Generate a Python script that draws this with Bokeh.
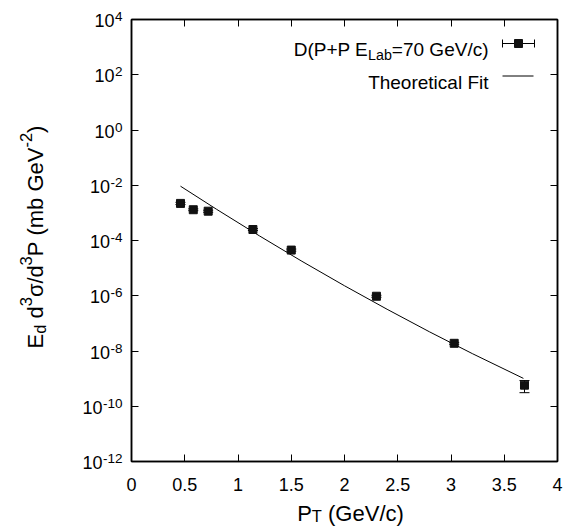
import math
from bokeh.plotting import figure
from bokeh.models import Range1d, FixedTicker, LinearAxis, LogAxis, CustomJSTickFormatter
from bokeh.core.properties import value
from bokeh.embed import file_html
from bokeh.resources import INLINE

# ---------------- data ----------------
pt = [0.46, 0.58, 0.72, 1.14, 1.50, 2.30, 3.03, 3.69]
xsec = [2.2e-3, 1.3e-3, 1.15e-3, 2.5e-4, 4.5e-5, 9.6e-7, 1.9e-8, 5.8e-10]
xsec_lo = [2.0e-3, 1.2e-3, 1.05e-3, 2.3e-4, 4.1e-5, 8.8e-7, 1.75e-8, 3.1e-10]
xsec_hi = [2.4e-3, 1.4e-3, 1.25e-3, 2.7e-4, 4.9e-5, 1.04e-6, 2.05e-8, 8.5e-10]

fit_pt = [0.46, 0.8, 1.2, 1.6, 2.0, 2.4, 2.8, 3.2, 3.68]
fit_xsec = [9.25e-3, 1.34e-3, 1.48e-4, 1.77e-5, 2.30e-6, 3.24e-7, 4.9e-8, 8.05e-9, 1.02e-9]

x_ticks = [0, 0.5, 1, 1.5, 2, 2.5, 3, 3.5, 4]
x_tick_labels = ["0", "0.5", "1", "1.5", "2", "2.5", "3", "3.5", "4"]
y_exponents = [4, 2, 0, -2, -4, -6, -8, -10, -12]

legend_data = "D(P+P E"
legend_sub = "Lab"
legend_rest = "=70 GeV/c)"
legend_fit = "Theoretical Fit"

# ---------------- layout / style ----------------
FONT = "Liberation Sans"
X0, X1 = 0, 4
Y0, Y1 = 1e-12, 1e4
FW, FH = 426, 442
F_TICK = 18
F_LEG = 19
F_TITLE = 22
S = 0.75

W = {' ': 278, '(': 333, ')': 333, '+': 584, '-': 333, '.': 278, '/': 278, '=': 584,
     'D': 722, 'E': 667, 'F': 611, 'G': 778, 'L': 556, 'P': 667, 'T': 611, 'V': 667,
     'a': 556, 'b': 556, 'c': 500, 'd': 556, 'e': 556, 'h': 556, 'i': 222, 'l': 222,
     'm': 833, 'o': 556, 'r': 333, 't': 278, 'σ': 600}


def tw(s, size):
    return sum(W.get(c, 556) for c in s) * size / 1000.0


def xd(px_from_right):
    return X1 - px_from_right * (X1 - X0) / FW


def yd(px_from_top):
    return 10 ** (math.log10(Y1) - px_from_top * (math.log10(Y1) - math.log10(Y0)) / FH)


p = figure(frame_width=FW, frame_height=FH,
           x_range=Range1d(X0, X1), y_range=Range1d(Y0, Y1),
           y_axis_type="log", output_backend="svg", toolbar_location=None,
           min_border_left=131, min_border_right=11, min_border_top=19, min_border_bottom=65)
p.grid.visible = False
p.outline_line_color = "black"
p.outline_line_width = 1.5
p.background_fill_color = "white"
p.border_fill_color = "white"

blank = CustomJSTickFormatter(code="return ''")

# bottom axis
xax = p.xaxis[0]
xax.ticker = FixedTicker(ticks=x_ticks, minor_ticks=[])
xax.formatter = CustomJSTickFormatter(args=dict(tvals=x_ticks, tlabels=x_tick_labels), code="""
const i = tvals.findIndex(t => Math.abs(t - tick) < 1e-9);
return i >= 0 ? tlabels[i] : '';
""")
xax.major_label_text_font = FONT
xax.major_label_text_font_size = f"{F_TICK}px"
xax.major_label_text_color = "black"
xax.major_label_standoff = 16

# left axis
yax = p.yaxis[0]
yax.ticker = FixedTicker(ticks=[10.0 ** e for e in y_exponents], minor_ticks=[])
yax.formatter = blank
yax.major_label_text_font_size = "0px"
yax.major_label_standoff = 0

# mirror axes
top = LinearAxis(ticker=FixedTicker(ticks=x_ticks, minor_ticks=[]), formatter=blank,
                 major_label_text_font_size="0px", major_label_standoff=0)
right = LogAxis(ticker=FixedTicker(ticks=[10.0 ** e for e in y_exponents], minor_ticks=[]),
                formatter=blank, major_label_text_font_size="0px", major_label_standoff=0)
p.add_layout(top, "above")
p.add_layout(right, "right")

for ax in [xax, yax, top, right]:
    ax.axis_line_color = "black"
    ax.axis_line_width = 1.5
    ax.major_tick_in = 7
    ax.major_tick_out = 0
    ax.major_tick_line_color = "black"
    ax.major_tick_line_width = 1
    ax.minor_tick_line_color = None

# ---------------- data marks ----------------
p.line(fit_pt, fit_xsec, line_color="black", line_width=1)
p.segment(x0=pt, y0=xsec_lo, x1=pt, y1=xsec_hi, line_color="black", line_width=1)
p.scatter(pt, xsec_lo, marker="dash", size=10, line_color="black", line_width=1)
p.scatter(pt, xsec_hi, marker="dash", size=10, line_color="black", line_width=1)
p.scatter(pt, xsec, marker="square", size=8, fill_color="#111111", line_color="#111111")


def put_text(x, y, text, size, xo, yo, align="left", baseline="alphabetic", angle=0.0):
    if not text.strip():
        return None
    r = p.text(x=[x], y=[y], text=[text], x_offset=xo, y_offset=yo, angle=angle,
               text_font=value(FONT), text_font_size=f"{size:.2f}px", text_color="black",
               text_align=align, text_baseline=baseline)
    r.level = "overlay"
    return r


# ---------------- y tick labels 10^n ----------------
sup_size = F_TICK * S
for e in y_exponents:
    es = str(e)
    put_text(X0, 10.0 ** e, es, sup_size, -9, -3, align="right")
    put_text(X0, 10.0 ** e, "10", F_TICK, -9 - tw(es, sup_size) - 0.5, 1, align="right",
             baseline="middle")


# ---------------- axis titles ----------------
def runs_width(runs, size):
    return sum(tw(t, size * s) for t, s, _ in runs)


# x title: P_T (GeV/c)
xruns = [("P", 1, 0), ("T", S, -0.12), (" ", 1, 0), ("(GeV/c)", 1, 0)]
tot = runs_width(xruns, F_TITLE)
pos = 219 - tot / 2
for t, s, sh in xruns:
    put_text(X0, Y0, t, F_TITLE * s, pos, 52 - sh * F_TITLE)
    pos += tw(t, F_TITLE * s)

# y title: E_d d^3 sigma / d^3 P (mb GeV^-2)
yruns = [("E", 1, 0), ("d", S, -0.22), (" ", 1, 0), ("d", 1, 0), ("3", S, 0.45), ("σ/d", 1, 0),
         ("3", S, 0.45), ("P", 1, 0), (" ", 1, 0), ("(mb GeV", 1, 0), ("-2", S, 0.45), (")", 1, 0)]
tot = runs_width(yruns, F_TITLE)
pos = -tot / 2
for t, s, sh in yruns:
    put_text(X0, Y1, t, F_TITLE * s, -96 - sh * F_TITLE, 217.5 - pos, angle=math.pi / 2)
    pos += tw(t, F_TITLE * s)

# ---------------- legend ----------------
lruns = [(legend_data, 1, 0), (legend_sub, S, -0.3), (legend_rest, 1, 0)]
tot = runs_width(lruns, F_LEG)
pos = -69 - tot
for t, s, sh in lruns:
    put_text(X1, Y1, t, F_LEG * s, pos, 30 - sh * F_LEG)
    pos += tw(t, F_LEG * s)
put_text(X1, Y1, legend_fit, F_LEG, -69, 63, align="right")

# legend samples
p.segment(x0=[xd(55)], y0=[yd(24)], x1=[xd(23)], y1=[yd(24)], line_color="black", line_width=1)
p.segment(x0=[xd(55), xd(23)], y0=[yd(20), yd(20)], x1=[xd(55), xd(23)], y1=[yd(28), yd(28)],
          line_color="black", line_width=1)
p.scatter([xd(39)], [yd(24)], marker="square", size=8, fill_color="#111111", line_color="#111111")
p.segment(x0=[xd(55)], y0=[yd(56.5)], x1=[xd(24)], y1=[yd(56.5)], line_color="black", line_width=1)

open("out.html", "w").write(file_html(p, INLINE))
